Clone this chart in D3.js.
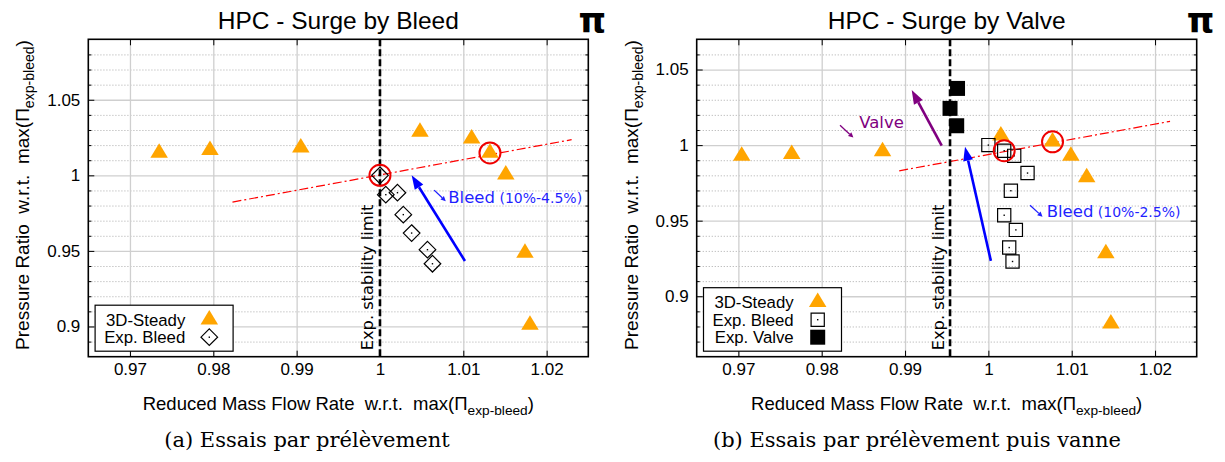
<!DOCTYPE html>
<html><head><meta charset="utf-8">
<script src="https://cdn.jsdelivr.net/npm/d3@7"></script>
<style>body{margin:0;background:#fff}svg{display:block}</style>
</head><body>
<script>
// ---------- data ----------
const xTickValues = [0.97, 0.98, 0.99, 1, 1.01, 1.02];
const xTickLabels = ["0.97", "0.98", "0.99", "1", "1.01", "1.02"];
const yTickValues = [0.9, 0.95, 1, 1.05];
const yTickLabels = ["0.9", "0.95", "1", "1.05"];

// Panel (a) — Surge by Bleed
const steadyA_x = [0.9735, 0.9796, 0.9905, 1.0048, 1.0110, 1.0132, 1.0151, 1.0174, 1.0180];
const steadyA_y = [1.0148, 1.0166, 1.0183, 1.0287, 1.0243, 1.0148, 1.0004, 0.9486, 0.9011];
const bleedA_x = [1.0000, 1.0007, 1.0021, 1.0028, 1.0038, 1.0057, 1.0063];
const bleedA_y = [1.0000, 0.9872, 0.9885, 0.9740, 0.9618, 0.9508, 0.9415];
const surgeLineA_x = [0.9823, 1.0230];
const surgeLineA_y = [0.9823, 1.0236];
const circlesA_x = [1.0000, 1.0132];
const circlesA_y = [1.0000, 1.0148];
const stabilityA = 1.0;
const bleedArrowA_x = [1.0102, 1.0038];
const bleedArrowA_y = [0.9433, 1.0000];

// Panel (b) — Surge by Valve
const steadyB_x = [0.9704, 0.9764, 0.9873, 1.0015, 1.0077, 1.0099, 1.0118, 1.0141, 1.0147];
const steadyB_y = [0.9929, 0.9940, 0.9958, 1.0062, 1.0022, 0.9929, 0.9786, 0.9283, 0.8819];
const bleedB_x = [1.0000, 1.0019, 1.0031, 1.0047, 1.0027, 1.0019, 1.0033, 1.0025, 1.0029];
const bleedB_y = [1.0000, 0.9963, 0.9929, 0.9815, 0.9698, 0.9536, 0.9439, 0.9322, 0.9230];
const valveB_x = [0.9963, 0.9954, 0.9962];
const valveB_y = [1.0375, 1.0243, 1.0128];
const surgeLineB_x = [0.9893, 1.0218];
const surgeLineB_y = [0.9830, 1.0157];
const circlesB_x = [1.0019, 1.0077];
const circlesB_y = [0.9963, 1.0022];
const stabilityB = 0.9954;
const bleedArrowB_x = [1.0003, 0.9972];
const bleedArrowB_y = [0.9234, 0.9989];
const valveArrowB_x = [0.9944, 0.9908];
const valveArrowB_y = [0.9996, 1.0364];

// ---------- drawing ----------
const W = 1225, H = 462;
const SANS = "'Liberation Sans', Arial, sans-serif";
const DV = "'DejaVu Sans', Verdana, sans-serif";
const NB = "\u00A0";
const svg = d3.select("body").append("svg").attr("width", W).attr("height", H);
svg.append("rect").attr("width", W).attr("height", H).attr("fill", "#fff");

const zip = (a, b) => a.map((v, i) => [v, b[i]]);

function arrow(g, x1, y1, x2, y2, color, sw, hl, hw) {
  const a = Math.atan2(y2 - y1, x2 - x1);
  const bx = x2 - hl * Math.cos(a), by = y2 - hl * Math.sin(a);
  g.append("line").attr("x1", x1).attr("y1", y1).attr("x2", bx).attr("y2", by)
    .attr("stroke", color).attr("stroke-width", sw);
  const px = -Math.sin(a) * hw / 2, py = Math.cos(a) * hw / 2;
  g.append("path").attr("d", `M${x2},${y2}L${bx + px},${by + py}L${bx - px},${by - py}Z`)
    .attr("fill", color);
}

const triPath = (w, h) => `M0,${-2 * h / 3}L${w / 2},${h / 3}L${-w / 2},${h / 3}Z`;
const TRI = triPath(17.5, 14.5);
const DIA = "M0,-8.3L8.3,0L0,8.3L-8.3,0Z";
const SQ = "M-6.6,-6.6H6.6V6.6H-6.6Z";
const FSQ = "M-7.5,-7.5H7.5V7.5H-7.5Z";

function drawTri(g, x, y) {
  g.append("path").attr("d", TRI).attr("transform", `translate(${x},${y})`).attr("fill", "#ffa500");
}
function drawDot(g, x, y) {
  g.append("rect").attr("x", x - 0.7).attr("y", y - 0.7).attr("width", 1.4).attr("height", 1.4).attr("fill", "#000");
}
function drawOpen(g, path, x, y) {
  g.append("path").attr("d", path).attr("transform", `translate(${x},${y})`)
    .attr("fill", "none").attr("stroke", "#000").attr("stroke-width", 1.2);
  drawDot(g, x, y);
}
function drawFilled(g, x, y) {
  g.append("path").attr("d", FSQ).attr("transform", `translate(${x},${y})`).attr("fill", "#000");
}

function axisLabel(g, main, x, y, rot, size) {
  const t = g.append("text").attr("font-family", SANS).attr("font-size", size)
    .attr("text-anchor", "middle").attr("fill", "#000")
    .attr("transform", `translate(${x},${y}) rotate(${rot})`);
  t.append("tspan").text(main + NB + NB + "w.r.t." + NB + NB + "max(\u03A0");
  t.append("tspan").text("exp-bleed").attr("font-size", size * 0.74).attr("dy", 5);
  t.append("tspan").text(")").attr("dy", -5);
}

function panel(cfg) {
  const g = svg.append("g");
  const { left, right, top, bottom } = cfg;
  const x = d3.scaleLinear().domain(cfg.xDomain).range([left, right]);
  const y = d3.scaleLinear().domain(cfg.yDomain).range([bottom, top]);
  const w = right - left, h = bottom - top;
  const lo = Math.round(cfg.yDomain[0] * 100), hi = Math.round(cfg.yDomain[1] * 100);
  const minor = d3.range(lo + 1, hi).filter(v => v % 5 !== 0).map(v => v / 100);

  // minor dotted horizontal grid
  g.append("g").attr("transform", `translate(${left},0)`)
    .call(d3.axisLeft(y).tickValues(minor).tickSize(-w).tickFormat(""))
    .call(s => s.select(".domain").remove())
    .call(s => s.selectAll("line").attr("stroke", "#b9b9b9").attr("stroke-width", 1).attr("stroke-dasharray", "1.2,1.8"));
  // major grid
  g.append("g").attr("transform", `translate(${left},0)`)
    .call(d3.axisLeft(y).tickValues(yTickValues).tickSize(-w).tickFormat(""))
    .call(s => s.select(".domain").remove())
    .call(s => s.selectAll("line").attr("stroke", "#cfcfcf").attr("stroke-width", 1.3));
  g.append("g").attr("transform", `translate(0,${bottom})`)
    .call(d3.axisBottom(x).tickValues(xTickValues).tickSize(-h).tickFormat(""))
    .call(s => s.select(".domain").remove())
    .call(s => s.selectAll("line").attr("stroke", "#cfcfcf").attr("stroke-width", 1.3));

  // inward ticks
  const tick = (ax, tr) => g.append("g").attr("transform", tr).call(ax)
    .call(s => s.select(".domain").remove())
    .call(s => s.selectAll("line").attr("stroke", "#000").attr("stroke-width", 1));
  tick(d3.axisBottom(x).tickValues(xTickValues).tickSize(-6).tickFormat(""), `translate(0,${bottom})`);
  tick(d3.axisTop(x).tickValues(xTickValues).tickSize(-6).tickFormat(""), `translate(0,${top})`);
  tick(d3.axisLeft(y).tickValues(yTickValues).tickSize(-6).tickFormat(""), `translate(${left},0)`);
  tick(d3.axisLeft(y).tickValues(minor).tickSize(-3).tickFormat(""), `translate(${left},0)`);
  tick(d3.axisRight(y).tickValues(yTickValues).tickSize(-6).tickFormat(""), `translate(${right},0)`);
  tick(d3.axisRight(y).tickValues(minor).tickSize(-3).tickFormat(""), `translate(${right},0)`);

  // tick labels
  g.append("g").attr("transform", `translate(0,${bottom})`)
    .call(d3.axisBottom(x).tickValues(xTickValues).tickSize(0).tickPadding(6).tickFormat((d, i) => xTickLabels[i]))
    .call(s => s.select(".domain").remove())
    .call(s => s.selectAll("text").attr("font-family", SANS).attr("font-size", 17).attr("fill", "#000"));
  g.append("g").attr("transform", `translate(${left},0)`)
    .call(d3.axisLeft(y).tickValues(yTickValues).tickSize(0).tickPadding(8).tickFormat((d, i) => yTickLabels[i]))
    .call(s => s.select(".domain").remove())
    .call(s => s.selectAll("text").attr("font-family", SANS).attr("font-size", 17).attr("fill", "#000"));

  // surge line (red dash-dot)
  g.append("path").datum(zip(cfg.line_x, cfg.line_y))
    .attr("d", d3.line().x(d => x(d[0])).y(d => y(d[1])))
    .attr("fill", "none").attr("stroke", "#ff0000").attr("stroke-width", 1.2)
    .attr("stroke-dasharray", "9,3,2,3");

  // stability limit
  const sx = x(cfg.stab);
  g.append("line").attr("x1", sx).attr("x2", sx).attr("y1", top).attr("y2", bottom)
    .attr("stroke", "#000").attr("stroke-width", 2.6).attr("stroke-dasharray", "7,3");
  g.append("text").attr("font-family", DV).attr("font-size", 16.2).attr("fill", "#000")
    .attr("transform", `translate(${sx - 6.5},${bottom - 6.5}) rotate(-90)`)
    .text("Exp. stability limit");

  // arrows
  cfg.arrows.forEach(a => arrow(g, x(a.x[0]), y(a.y[0]), x(a.x[1]), y(a.y[1]), a.color, 2.6, 14, 10));

  // markers
  zip(cfg.steady_x, cfg.steady_y).forEach(d => drawTri(g, x(d[0]), y(d[1])));
  if (cfg.valve_x) zip(cfg.valve_x, cfg.valve_y).forEach(d => drawFilled(g, x(d[0]), y(d[1])));
  zip(cfg.exp_x, cfg.exp_y).forEach(d => drawOpen(g, cfg.expShape, x(d[0]), y(d[1])));
  zip(cfg.circ_x, cfg.circ_y).forEach(d => g.append("circle").attr("cx", x(d[0])).attr("cy", y(d[1]))
    .attr("r", 10.5).attr("fill", "none").attr("stroke", "#ee0000").attr("stroke-width", 2));

  // annotations
  cfg.notes.forEach(n => {
    arrow(g, x(n.ax[0]), y(n.ay[0]), x(n.ax[1]), y(n.ay[1]), n.color, 1.3, 5, 5);
    const t = g.append("text").attr("x", x(n.tx)).attr("y", y(n.ty)).attr("font-family", DV)
      .attr("fill", n.color).attr("font-size", 16.5);
    t.append("tspan").text(n.text);
    if (n.sub) t.append("tspan").text(NB + n.sub).attr("font-size", 14);
  });

  // legend
  const lg = g.append("g");
  const lh = cfg.legend.length * 17.5 + 11;
  const lx = left + 6.8, ly = bottom - 5.5 - lh;
  lg.append("rect").attr("x", lx).attr("y", ly).attr("width", 138).attr("height", lh)
    .attr("fill", "#fff").attr("stroke", "#000").attr("stroke-width", 1.2);
  cfg.legend.forEach((e, i) => {
    const cy = ly + 14.5 + i * 17.5;
    lg.append("text").attr("x", left + 97).attr("y", cy + 6).attr("text-anchor", "end")
      .attr("font-family", SANS).attr("font-size", 16.8).attr("fill", "#000").text(e.label);
    const mx = left + 121;
    if (e.kind === "tri") drawTri(lg, mx, cy);
    else if (e.kind === "fsq") drawFilled(lg, mx, cy);
    else drawOpen(lg, e.kind === "dia" ? DIA : SQ, mx, cy);
  });

  // frame
  g.append("rect").attr("x", left).attr("y", top).attr("width", w).attr("height", h)
    .attr("fill", "none").attr("stroke", "#000").attr("stroke-width", 1.6);

  // titles and labels
  const cx = (left + right) / 2;
  g.append("text").attr("x", cx).attr("y", 29.3).attr("text-anchor", "middle")
    .attr("font-family", SANS).attr("font-size", 24.5).attr("fill", "#000").text(cfg.title);
  g.append("text").attr("x", right + 4).attr("y", 33).attr("text-anchor", "middle")
    .attr("font-family", DV).attr("font-weight", "bold").attr("font-size", 35).attr("fill", "#000").text("\u03C0");
  axisLabel(g, "Reduced Mass Flow Rate", cx, 410, 0, 18.5);
  axisLabel(g, "Pressure Ratio", left - 59, (top + bottom) / 2 - 3, -90, 19);
  g.append("text").attr("x", cfg.capX).attr("y", 447).attr("text-anchor", "middle")
    .attr("font-family", "'DejaVu Serif', serif").attr("font-size", 21).attr("fill", "#000").text(cfg.caption);
}

panel({
  left: 88.3, right: 588.3, top: 39.3, bottom: 356.7,
  xDomain: [0.965, 1.025], yDomain: [0.88, 1.09],
  steady_x: steadyA_x, steady_y: steadyA_y,
  exp_x: bleedA_x, exp_y: bleedA_y, expShape: DIA,
  line_x: surgeLineA_x, line_y: surgeLineA_y,
  circ_x: circlesA_x, circ_y: circlesA_y,
  stab: stabilityA,
  arrows: [{ x: bleedArrowA_x, y: bleedArrowA_y, color: "#0000ff" }],
  notes: [{ ax: [1.0065, 1.0079], ay: [0.9902, 0.9829], tx: 1.0082, ty: 0.9819,
            color: "#1f1fff", text: "Bleed", sub: "(10%-4.5%)" }],
  legend: [{ label: "3D-Steady", kind: "tri" }, { label: "Exp. Bleed", kind: "dia" }],
  title: "HPC - Surge by Bleed",
  caption: "(a) Essais par prélèvement", capX: 307
});

panel({
  left: 696.7, right: 1196.7, top: 39.3, bottom: 356.7,
  xDomain: [0.965, 1.025], yDomain: [0.86, 1.07],
  steady_x: steadyB_x, steady_y: steadyB_y,
  exp_x: bleedB_x, exp_y: bleedB_y, expShape: SQ,
  valve_x: valveB_x, valve_y: valveB_y,
  line_x: surgeLineB_x, line_y: surgeLineB_y,
  circ_x: circlesB_x, circ_y: circlesB_y,
  stab: stabilityB,
  arrows: [{ x: bleedArrowB_x, y: bleedArrowB_y, color: "#0000ff" },
           { x: valveArrowB_x, y: valveArrowB_y, color: "#800080" }],
  notes: [{ ax: [1.0050, 1.0065], ay: [0.9602, 0.9526], tx: 1.0070, ty: 0.9526,
            color: "#1f1fff", text: "Bleed", sub: "(10%-2.5%)" },
          { ax: [0.9822, 0.9838], ay: [1.0131, 1.0050], tx: 0.9845, ty: 1.0115,
            color: "#800080", text: "Valve" }],
  legend: [{ label: "3D-Steady", kind: "tri" }, { label: "Exp. Bleed", kind: "sq" }, { label: "Exp. Valve", kind: "fsq" }],
  title: "HPC - Surge by Valve",
  caption: "(b) Essais par prélèvement puis vanne", capX: 917
});
</script>
</body></html>
